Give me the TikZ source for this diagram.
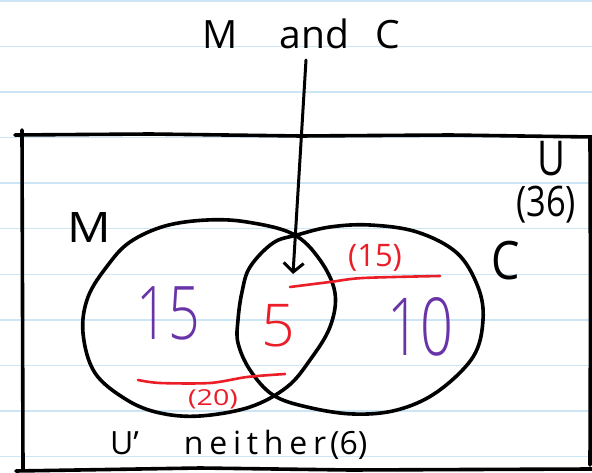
\documentclass[tikz,border=0pt]{standalone}
\usepackage{fontspec}
\usepackage{graphicx}
\setmainfont{Open Sans}
\IfFontExistsTF{Open Sans Light}{\newfontfamily\thinfont{Open Sans Light}}{\newfontfamily\thinfont{Open Sans}}
\usetikzlibrary{arrows.meta}
\definecolor{paperline}{RGB}{205,230,246}
\definecolor{penpurple}{RGB}{104,52,168}
\definecolor{penred}{RGB}{235,30,40}
\newcommand\squeezeit[2]{\scalebox{#1}[1]{#2}}
\begin{document}
\begin{tikzpicture}[x=1pt,y=-1pt,
  pen/.style={line width=3.6pt, line cap=round, line join=round},
  redpen/.style={draw=penred, line width=2.6pt, line cap=round},
  lbl/.style={inner sep=0pt, text=black},
  bignum/.style={inner sep=0pt},
  ]
\useasboundingbox (0,0) rectangle (592,473);
\fill[white] (0,0) rectangle (592,473);
\foreach \k in {0,...,10} \draw[paperline, line width=1.5pt] (0,1+45.55*\k) -- (592,1+45.55*\k);

% universe rectangle
\draw[pen] (15,135) -- (150,134) -- (300,136) -- (450,135) -- (592,137);
\draw[pen] (22,130) -- (22.5,300) -- (23,470);
\draw[pen] (590,137) -- (590.5,300) -- (590,465);
\draw[pen] (16,471) -- (200,468) -- (350,470) -- (592,469);

% circle M
\draw[pen] plot[smooth cycle, tension=0.6] coordinates {(207,220) (247,222) (293,234) (320,260) (335,293) (330,327) (310,360) (287,387) (250,407) (200,416) (160,413) (127,400) (95,373) (83,333) (88,297) (108,265) (130,242) (165,226)};
% circle C
\draw[pen] plot[smooth cycle, tension=0.6] coordinates {(330,227) (370,225) (417,232) (457,253) (478,287) (483,320) (473,357) (437,392) (397,410) (353,414) (307,407) (273,395) (250,370) (238,343) (238,320) (242,292) (250,267) (273,243) (297,235)};

% red lines
\draw[redpen] plot[smooth] coordinates {(290,287) (330,282) (363,278) (440,276)};
\draw[redpen] plot[smooth] coordinates {(138,380) (160,383) (210,383) (247,377) (285,374)};

% texts
\node[lbl, anchor=base west, font=\fontsize{39}{39}\selectfont] (mc) at (202,49) {M\hspace{42pt}and\hspace{27pt}C};
\node[lbl, font=\fontsize{42}{42}\selectfont] (mlab) at (89,228) {\squeezeit{1.15}{M}};
\node[lbl, font=\fontsize{53}{53}\selectfont] (clab) at (506,261) {\squeezeit{0.85}{C}};
\node[lbl, font=\fontsize{48}{48}\selectfont] (ulab) at (551,159) {\squeezeit{0.8}{U}};
\node[lbl, font=\fontsize{42}{42}\selectfont] (utot) at (546,205) {\squeezeit{0.82}{(36)}};
\node[bignum, text=penpurple, font=\thinfont\fontsize{74}{74}\selectfont] (monly) at (168,313) {\squeezeit{0.75}{15}};
\node[bignum, text=penred, font=\thinfont\fontsize{59}{59}\selectfont] (both) at (278,326) {5};
\node[bignum, text=penpurple, font=\thinfont\fontsize{80}{80}\selectfont] (conly) at (420,327) {\squeezeit{0.72}{10}};
\node[bignum, text=penred, font=\fontsize{31}{31}\selectfont] (ctot) at (375,258) {(15)};
\node[bignum, text=penred, font=\fontsize{22}{22}\selectfont] (mtot) at (213,399) {\squeezeit{1.3}{(20)}};
\node[lbl, anchor=base west, font=\fontsize{32}{32}\selectfont] (neith) at (110,454) {U'\hspace{45pt}{\addfontfeature{LetterSpace=18}neither}\hspace{4pt}(6)};

% arrow
\coordinate (atop) at (306,60);
\coordinate (atip) at (293,274);
\draw[pen, line width=3pt, -{Straight Barb[length=9pt,width=20pt]}] (atop) -- (atip);
\end{tikzpicture}
\end{document}
